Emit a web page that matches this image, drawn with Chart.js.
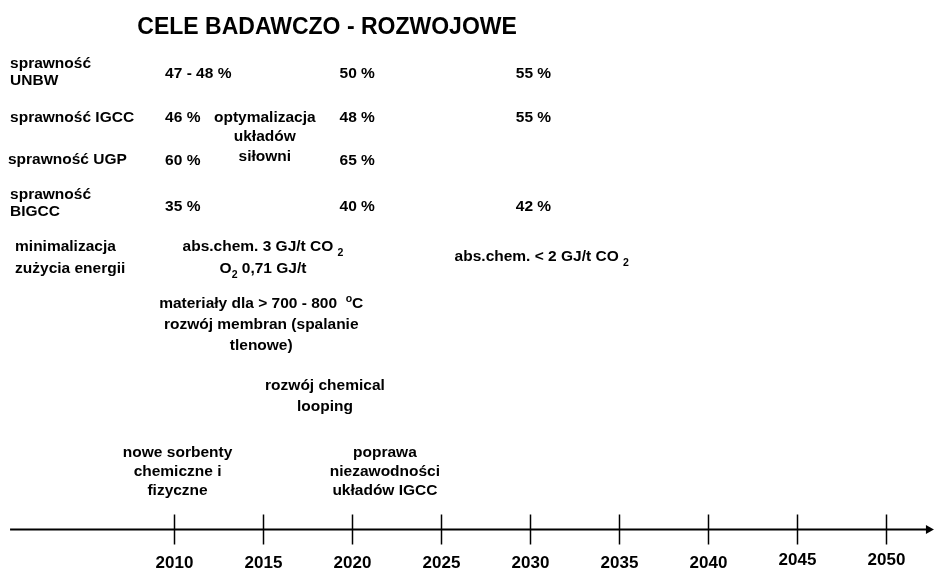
<!DOCTYPE html>
<html>
<head>
<meta charset="utf-8">
<script src="https://cdn.jsdelivr.net/npm/chart.js@4/dist/chart.umd.min.js"></script>
<style>
  body { margin: 0; background: #fff; }
  canvas { display: block; }
</style>
</head>
<body>
<canvas id="chart" width="935" height="569"></canvas>
<script>
// timeline data
var years = [2010, 2015, 2020, 2025, 2030, 2035, 2040, 2045, 2050];
var metrics = ['sprawność\nUNBW', 'sprawność IGCC', 'sprawność UGP', 'sprawność\nBIGCC'];
var targets2010 = ['47 - 48 %', '46 %', '60 %', '35 %'];
var targets2020 = ['50 %', '48 %', '65 %', '40 %'];
var targets2030 = ['55 %', '55 %', '', '42 %'];
var title = 'CELE BADAWCZO - ROZWOJOWE';
// _x = subscript, ^x = superscript
var milestones = [
	'optymalizacja\nukładów\nsiłowni',
	'minimalizacja\nzużycia energii',
	'abs.chem. 3 GJ/t CO _2\nO_2 0,71 GJ/t',
	'abs.chem. < 2 GJ/t CO _2',
	'materiały dla > 700 - 800  ^oC\nrozwój membran (spalanie\ntlenowe)',
	'rozwój chemical\nlooping',
	'nowe sorbenty\nchemiczne i\nfizyczne',
	'poprawa\nniezawodności\nukładów IGCC'
];

var FAMILY = '"Liberation Sans", Arial, Helvetica, sans-serif';

// layout (x in years, y on a 0..569 level scale from the top)
var metricRows = [70.5, 116, 158, 201.5];
var valueRows = [72, 116, 159, 205];
var milestoneLayout = [
	{x: 2015.1, y: 116, lh: 19.5, align: 'center'},
	{x: 2001.07, y: 245.5, lh: 22, align: 'left'},
	{x: 2015.0, y: 245.5, lh: 22, align: 'center'},
	{x: 2030.66, y: 255.7, lh: 22, align: 'center'},
	{x: 2014.9, y: 302, lh: 21, align: 'center'},
	{x: 2018.48, y: 384, lh: 21, align: 'center'},
	{x: 2010.2, y: 451, lh: 19, align: 'center'},
	{x: 2021.85, y: 451, lh: 19, align: 'center'}
];

function parseRich(s){
	return s.split(/(_.|\^.)/).filter(function(p){ return p.length; }).map(function(p){
		if (p.length === 2 && p[0] === '_') return {t: p[1], k: 'sub'};
		if (p.length === 2 && p[0] === '^') return {t: p[1], k: 'sup'};
		return {t: p, k: 'n'};
	});
}

function drawLine(ctx, str, x, y, align, size){
	var segs = parseRich(str);
	var fontFor = function(k){ return 'bold ' + (k === 'n' ? size : size * 0.68) + 'px ' + FAMILY; };
	var w = 0;
	y += 1.5;
	segs.forEach(function(s){ ctx.font = fontFor(s.k); s.w = ctx.measureText(s.t).width; w += s.w; });
	var cx = align === 'left' ? x : x - w / 2;
	segs.forEach(function(s){
		ctx.font = fontFor(s.k);
		ctx.fillText(s.t, cx, y + (s.k === 'sub' ? 6 : s.k === 'sup' ? -4 : 0));
		cx += s.w;
	});
}

function drawBlock(chart, text, xv, yv, lh, align, size){
	var ctx = chart.ctx;
	var px = chart.scales.x.getPixelForValue(xv);
	var py = chart.scales.y.getPixelForValue(yv);
	text.split('\n').forEach(function(line, i){
		drawLine(ctx, line, px, py + i * lh, align, size);
	});
}

var timelinePlugin = {
	id: 'timeline',
	afterDraw: function(chart){
		var ctx = chart.ctx, xs = chart.scales.x, ys = chart.scales.y;
		ctx.save();
		ctx.fillStyle = '#000';
		ctx.strokeStyle = '#000';
		ctx.textBaseline = 'middle';
		ctx.textAlign = 'left';

		// axis
		var axisY = ys.getPixelForValue(529.5);
		var x0 = xs.getPixelForValue(2000.79), x1 = xs.getPixelForValue(2052.3);
		ctx.lineWidth = 2;
		ctx.beginPath(); ctx.moveTo(x0, axisY); ctx.lineTo(x1, axisY); ctx.stroke();
		ctx.beginPath();
		ctx.moveTo(x1 + 7, axisY); ctx.lineTo(x1 - 1, axisY - 4.5); ctx.lineTo(x1 - 1, axisY + 4.5);
		ctx.closePath(); ctx.fill();
		ctx.lineWidth = 1.5;
		years.forEach(function(yr){
			var px = Math.round(xs.getPixelForValue(yr)) + 0.5;
			ctx.beginPath(); ctx.moveTo(px, axisY - 15); ctx.lineTo(px, axisY + 15); ctx.stroke();
			drawLine(ctx, String(yr), px, ys.getPixelForValue(yr >= 2045 ? 558.5 : 562), 'center', 17);
		});

		// title
		drawBlock(chart, title, 2018.6, 26, 0, 'center', 23);

		// efficiency table
		metrics.forEach(function(m, i){
			var lines = m.split('\n').length;
			drawBlock(chart, m, i === 2 ? 2000.67 : 2000.79, metricRows[i] - (lines - 1) * 8.5, 17, 'left', 15.5);
		});
		[[2009.5, targets2010], [2019.3, targets2020], [2029.2, targets2030]].forEach(function(col){
			col[1].forEach(function(v, i){
				if (v) drawBlock(chart, v, col[0], valueRows[i], 0, 'left', 15.5);
			});
		});

		// milestones
		milestones.forEach(function(m, i){
			var l = milestoneLayout[i];
			drawBlock(chart, m, l.x, l.y, l.lh, l.align, 15.5);
		});
		ctx.restore();
	}
};

new Chart(document.getElementById('chart').getContext('2d'), {
	type: 'scatter',
	data: {
		datasets: [{
			data: years.map(function(y){ return {x: y, y: 529.5}; }),
			pointRadius: 0,
			showLine: false
		}]
	},
	options: {
		responsive: false,
		animation: false,
		devicePixelRatio: 1,
		layout: {padding: 0},
		scales: {
			x: {type: 'linear', display: false, min: 2000.2247, max: 2000.2247 + 935 / 17.8},
			y: {type: 'linear', display: false, min: 0, max: 569, reverse: true}
		},
		plugins: {legend: {display: false}, tooltip: {enabled: false}, title: {display: false}}
	},
	plugins: [timelinePlugin]
});
</script>
</body>
</html>
